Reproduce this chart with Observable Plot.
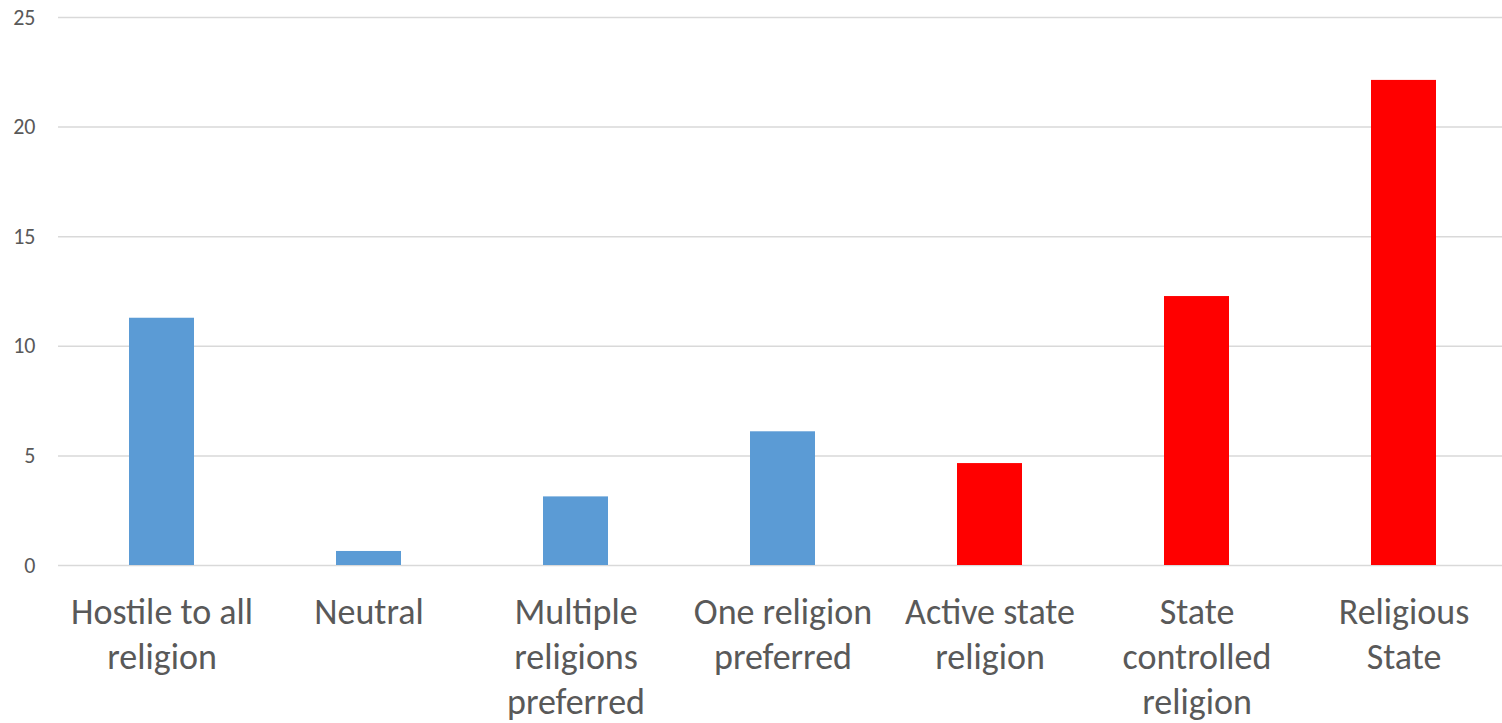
<!DOCTYPE html>
<html>
<head>
<meta charset="utf-8">
<script src="https://cdn.jsdelivr.net/npm/d3@7"></script>
<script src="https://cdn.jsdelivr.net/npm/@observablehq/plot@0.6"></script>
<style>
  html, body { margin: 0; padding: 0; background: #fff; }
</style>
</head>
<body>
<div id="chart"></div>
<script>
// State stance toward religion
const categories = [
  "Hostile to all religion",
  "Neutral",
  "Multiple religions preferred",
  "One religion preferred",
  "Active state religion",
  "State controlled religion",
  "Religious State"
];
const values = [11.28, 0.64, 3.13, 6.1, 4.65, 12.27, 22.13];
const groups = ["separate", "separate", "separate", "separate", "state", "state", "state"];
const tickLabels = [
  "Hostile to all\nreligion",
  "Neutral",
  "Multiple\nreligions\npreferred",
  "One religion\npreferred",
  "Active state\nreligion",
  "State\ncontrolled\nreligion",
  "Religious\nState"
];
const yTicks = [0, 5, 10, 15, 20, 25];

const rows = categories.map((c, i) => ({category: c, value: values[i], group: groups[i]}));
const labelOf = new Map(categories.map((c, i) => [c, tickLabels[i]]));

const chart = Plot.plot({
  width: 1502,
  height: 723,
  marginLeft: 58,
  marginRight: 0,
  marginTop: 17,
  marginBottom: 158,
  style: {fontFamily: "Carlito, Calibri, Lato, sans-serif", color: "#595959", background: "#fff"},
  x: {domain: categories, range: [58, 1507], padding: 0},
  y: {domain: [0, 25]},
  color: {domain: ["separate", "state"], range: ["#5b9bd5", "#ff0000"]},
  marks: [
    Plot.gridY(yTicks, {stroke: "#d9d9d9", strokeOpacity: 1, strokeWidth: 1.5}),
    Plot.barY(rows, {x: "category", y: "value", fill: "group", insetLeft: 71, insetRight: 71}),
    Plot.axisY(yTicks, {tickSize: 0, tickPadding: 23, fontSize: 22, label: null}),
    Plot.axisX({tickSize: 0, tickPadding: 27, fontSize: 36, lineHeight: 1.25, label: null,
      tickFormat: d => labelOf.get(d)})
  ]
});
document.getElementById("chart").appendChild(chart);
</script>
</body>
</html>
